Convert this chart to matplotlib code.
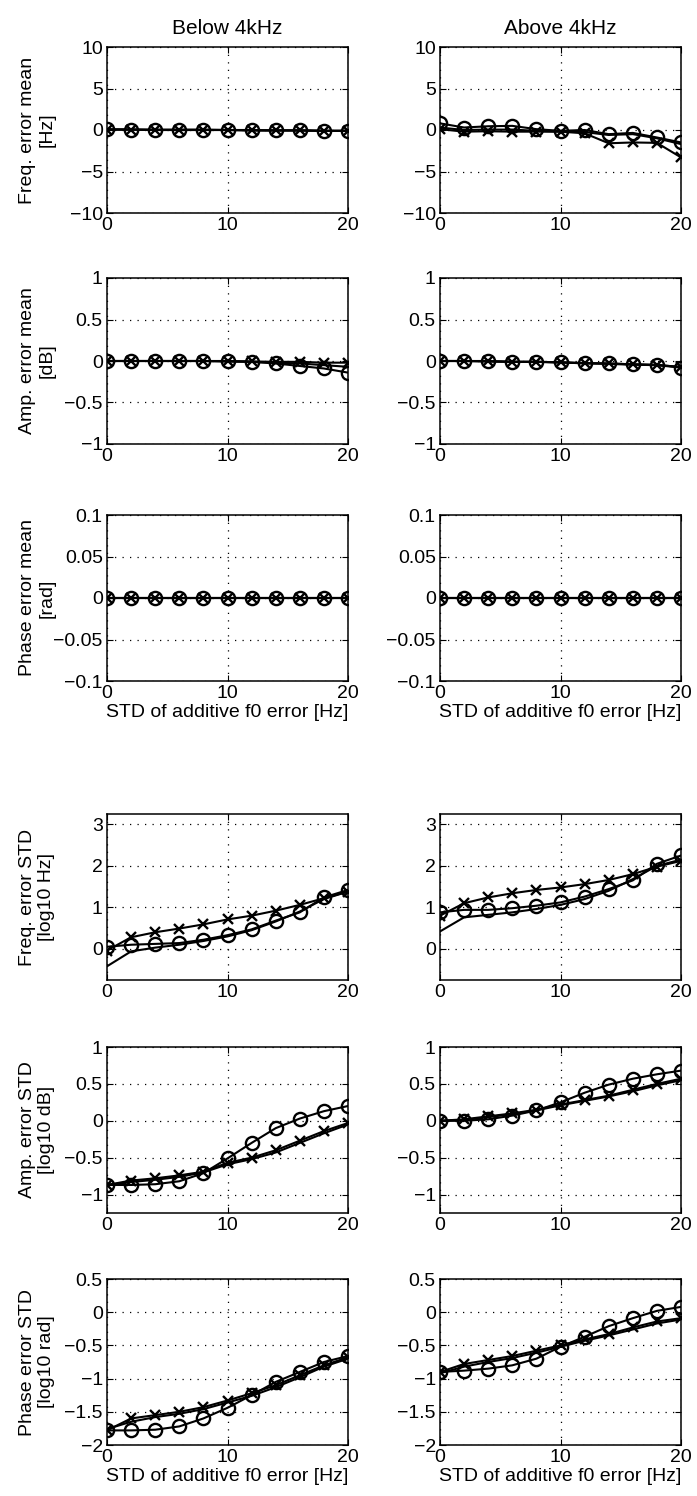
import matplotlib
matplotlib.use("Agg")
import matplotlib.pyplot as plt
from matplotlib.ticker import FuncFormatter

plt.rcParams['font.family'] = ['Liberation Sans', 'DejaVu Sans']

# ---------------- data ----------------
x_std = [0, 2, 4, 6, 8, 10, 12, 14, 16, 18, 20]

col_titles = ["Below 4kHz", "Above 4kHz"]
xlabel_text = "STD of additive f0 error [Hz]"
ylabels = ["Freq. error mean\n[Hz]", "Amp. error mean\n[dB]", "Phase error mean\n[rad]",
           "Freq. error STD\n[log10 Hz]", "Amp. error STD\n[log10 dB]", "Phase error STD\n[log10 rad]"]

ylims = [(-10, 10), (-1, 1), (-0.1, 0.1), (-0.75, 3.25), (-1.25, 1), (-2, 0.5)]
yticks = [[-10, -5, 0, 5, 10], [-1, -0.5, 0, 0.5, 1], [-0.1, -0.05, 0, 0.05, 0.1],
          [0, 1, 2, 3], [-1, -0.5, 0, 0.5, 1], [-2, -1.5, -1, -0.5, 0, 0.5]]
xticks = [0, 10, 20]

# Freq. error mean
freq_mean_lo_o = [0.1, 0.05, 0.05, 0.05, 0.05, 0.0, 0.0, -0.05, -0.05, -0.1, -0.1]
freq_mean_lo_x = [0.05, 0.05, 0.0, 0.0, 0.0, 0.0, -0.05, -0.05, -0.05, -0.1, -0.1]
freq_mean_lo_l = [0.05, 0.05, 0.0, 0.0, 0.0, 0.0, -0.05, -0.05, -0.05, -0.1, -0.1]
freq_mean_hi_o = [0.8, 0.3, 0.45, 0.5, 0.1, -0.1, 0.0, -0.5, -0.35, -0.9, -1.5]
freq_mean_hi_x = [0.1, -0.2, -0.15, -0.2, -0.2, -0.2, -0.4, -1.6, -1.5, -1.55, -3.3]
freq_mean_hi_l = [0.3, 0.0, 0.05, 0.05, -0.1, -0.2, -0.25, -0.6, -0.5, -1.0, -1.7]

# Amp. error mean
amp_mean_lo_o = [0.0, 0.0, 0.0, 0.0, 0.0, -0.005, -0.01, -0.03, -0.06, -0.09, -0.14]
amp_mean_lo_x = [0.0, 0.0, 0.0, 0.0, 0.0, 0.0, -0.005, -0.01, -0.01, -0.02, -0.02]
amp_mean_lo_l = [0.0, 0.0, 0.0, 0.0, 0.0, -0.005, -0.01, -0.02, -0.03, -0.05, -0.07]
amp_mean_hi_o = [0.0, 0.0, 0.0, -0.01, -0.01, -0.015, -0.03, -0.03, -0.04, -0.05, -0.08]
amp_mean_hi_x = [0.0, 0.0, -0.005, -0.01, -0.01, -0.015, -0.025, -0.03, -0.04, -0.045, -0.075]
amp_mean_hi_l = [0.0, 0.0, -0.005, -0.01, -0.01, -0.02, -0.025, -0.035, -0.045, -0.05, -0.07]

# Phase error mean
phase_mean_lo_o = [0.0, 0.0, 0.0, 0.0, 0.0, 0.0, 0.0, 0.0, 0.0, 0.0, 0.0]
phase_mean_lo_x = [0.0, 0.0, 0.0, 0.0, 0.0, 0.0, 0.0, 0.0, 0.0, 0.0, 0.0]
phase_mean_lo_l = [0.0, 0.0, 0.0, 0.0, 0.0, 0.0, 0.0, 0.0, 0.0, 0.0, 0.0]
phase_mean_hi_o = [0.0, 0.0, 0.0, 0.0, 0.0, 0.0, 0.0, 0.0, 0.0, 0.0, 0.0]
phase_mean_hi_x = [0.0, 0.0, 0.0, 0.0, 0.0, 0.0, 0.0, 0.0, 0.0, 0.0, 0.0]
phase_mean_hi_l = [0.0, 0.0, 0.0, 0.0, 0.0, 0.0, 0.0, 0.0, 0.0, 0.0, 0.0]

# Freq. error STD
freq_std_lo_o = [0.05, 0.1, 0.12, 0.14, 0.22, 0.33, 0.47, 0.68, 0.88, 1.24, 1.42]
freq_std_lo_x = [-0.04, 0.28, 0.4, 0.49, 0.59, 0.71, 0.8, 0.92, 1.06, 1.22, 1.38]
freq_std_lo_l = [-0.42, -0.06, 0.03, 0.1, 0.19, 0.3, 0.45, 0.66, 0.9, 1.2, 1.38]
freq_std_hi_o = [0.88, 0.94, 0.94, 0.98, 1.04, 1.12, 1.26, 1.44, 1.65, 2.05, 2.25]
freq_std_hi_x = [0.8, 1.1, 1.24, 1.34, 1.42, 1.48, 1.56, 1.66, 1.8, 1.98, 2.12]
freq_std_hi_l = [0.42, 0.76, 0.82, 0.88, 0.96, 1.06, 1.2, 1.4, 1.68, 2.0, 2.15]

# Amp. error STD
amp_std_lo_o = [-0.87, -0.87, -0.86, -0.82, -0.71, -0.51, -0.3, -0.1, 0.03, 0.13, 0.2]
amp_std_lo_x = [-0.87, -0.81, -0.78, -0.74, -0.69, -0.57, -0.5, -0.4, -0.27, -0.14, -0.03]
amp_std_lo_l = [-0.87, -0.83, -0.8, -0.76, -0.7, -0.59, -0.52, -0.43, -0.3, -0.17, -0.05]
amp_std_hi_o = [0.0, 0.0, 0.02, 0.07, 0.14, 0.25, 0.38, 0.49, 0.57, 0.63, 0.68]
amp_std_hi_x = [0.0, 0.02, 0.06, 0.1, 0.15, 0.22, 0.28, 0.34, 0.42, 0.5, 0.57]
amp_std_hi_l = [0.0, 0.01, 0.05, 0.09, 0.14, 0.21, 0.27, 0.33, 0.4, 0.48, 0.55]

# Phase error STD
phase_std_lo_o = [-1.78, -1.78, -1.77, -1.72, -1.6, -1.44, -1.25, -1.05, -0.9, -0.75, -0.66]
phase_std_lo_x = [-1.78, -1.6, -1.55, -1.5, -1.43, -1.33, -1.22, -1.1, -0.95, -0.8, -0.68]
phase_std_lo_l = [-1.76, -1.65, -1.58, -1.53, -1.46, -1.36, -1.26, -1.13, -0.98, -0.82, -0.7]
phase_std_hi_o = [-0.9, -0.88, -0.85, -0.8, -0.7, -0.52, -0.37, -0.21, -0.09, 0.02, 0.08]
phase_std_hi_x = [-0.9, -0.78, -0.72, -0.66, -0.58, -0.5, -0.41, -0.33, -0.23, -0.14, -0.09]
phase_std_hi_l = [-0.92, -0.82, -0.75, -0.69, -0.61, -0.52, -0.43, -0.35, -0.26, -0.17, -0.11]

panels = [
    [(freq_mean_lo_o, freq_mean_lo_x, freq_mean_lo_l), (freq_mean_hi_o, freq_mean_hi_x, freq_mean_hi_l)],
    [(amp_mean_lo_o, amp_mean_lo_x, amp_mean_lo_l), (amp_mean_hi_o, amp_mean_hi_x, amp_mean_hi_l)],
    [(phase_mean_lo_o, phase_mean_lo_x, phase_mean_lo_l), (phase_mean_hi_o, phase_mean_hi_x, phase_mean_hi_l)],
    [(freq_std_lo_o, freq_std_lo_x, freq_std_lo_l), (freq_std_hi_o, freq_std_hi_x, freq_std_hi_l)],
    [(amp_std_lo_o, amp_std_lo_x, amp_std_lo_l), (amp_std_hi_o, amp_std_hi_x, amp_std_hi_l)],
    [(phase_std_lo_o, phase_std_lo_x, phase_std_lo_l), (phase_std_hi_o, phase_std_hi_x, phase_std_hi_l)],
]

# ---------------- layout ----------------
W, H = 697, 1496
fig = plt.figure(figsize=(W / 100, H / 100), dpi=100)

col_left_px = [107, 440]
ax_w_px = 241
ax_h_px = 166
row_bottom_px = [213, 444, 681, 980, 1213, 1445]

FS = 14
fmt = FuncFormatter(lambda v, p: ('%g' % v).replace('-', '\u2212'))

for r in range(6):
    for c in range(2):
        ax = fig.add_axes([col_left_px[c] / W, 1 - row_bottom_px[r] / H,
                           ax_w_px / W, ax_h_px / H])
        o_vals, x_vals, l_vals = panels[r][c]
        ax.plot(x_std, l_vals, '-', color='black', lw=1.5, zorder=3)
        ax.plot(x_std, x_vals, '-', color='black', lw=1.5, marker='x',
                ms=7, mew=1.7, zorder=4)
        ax.plot(x_std, o_vals, '-', color='black', lw=1.5, marker='o',
                ms=9.5, mew=1.7, mfc='none', zorder=5)
        ax.set_xlim(0, 20)
        ax.set_ylim(*ylims[r])
        ax.set_xticks(xticks)
        ax.set_yticks(yticks[r])
        ax.yaxis.set_major_formatter(fmt)
        ax.xaxis.set_major_formatter(fmt)
        ax.grid(True, color='black', linestyle=(0, (1, 5)), lw=0.9)
        ax.tick_params(direction='in', length=4, width=0.8, labelsize=FS,
                       top=True, right=True, pad=3)
        for sp in ax.spines.values():
            sp.set_linewidth(1.1)
        for lab in ax.get_xticklabels() + ax.get_yticklabels():
            lab.set_clip_on(False)
        if r == 0:
            ax.set_title(col_titles[c], fontsize=15, pad=9)
        if r in (2, 5):
            ax.set_xlabel(xlabel_text, fontsize=FS, labelpad=1)
        if c == 0:
            ax.set_ylabel(ylabels[r], fontsize=FS, linespacing=1.15)
            ax.yaxis.set_label_coords(-0.215, 0.5)

fig.savefig("out.png", dpi=100)
